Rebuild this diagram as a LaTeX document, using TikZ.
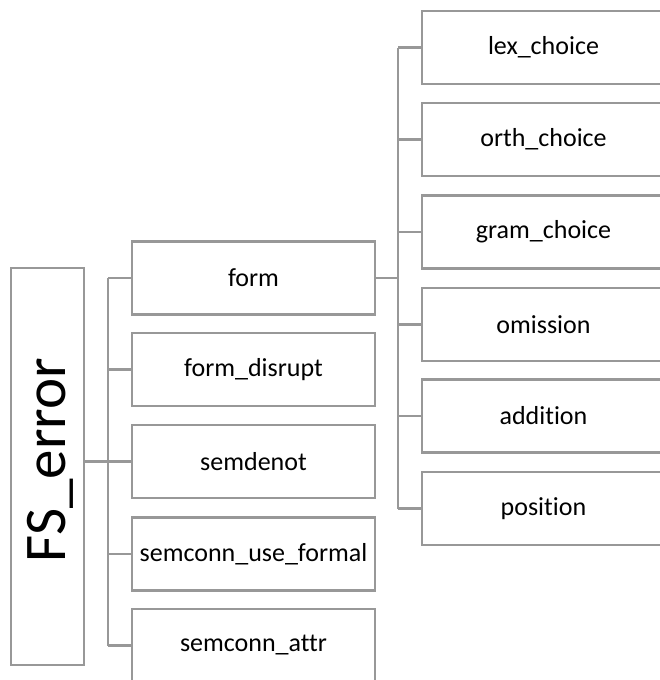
\documentclass[tikz,border=0pt]{standalone}
\usepackage{fontspec}
\setmainfont{Carlito}[RawFeature={-liga;-clig;-dlig;-calt}]
\definecolor{lineg}{RGB}{152,152,152}
\begin{document}
\begin{tikzpicture}[x=1pt,y=1pt,
  box/.style={draw=lineg,line width=2.3pt,fill=white,rectangle,inner sep=0pt,
    minimum width=243pt,minimum height=73pt,font=\fontsize{26}{30}\selectfont},
  rootbox/.style={draw=lineg,line width=2.3pt,fill=white,rectangle,inner sep=0pt,
    minimum width=73pt,minimum height=397pt},
  conn/.style={draw=lineg,line width=2.3pt}]
\useasboundingbox (0,0) rectangle (660,-680);
\clip (0,0) rectangle (660,-680);
% root
\node[rootbox] (root) at (47.5,-466.5) {};
\node[rotate=90,font=\fontsize{59}{66}\selectfont,inner sep=0pt] (roottxt) at (50,-460) {FS\_error};
% middle column
\node[box] (form) at (253.5,-278) {form};
\node[box] (disrupt) at (253.5,-369.5) {form\_disrupt};
\node[box] (semdenot) at (253.5,-461.5) {semdenot};
\node[box] (semformal) at (253.5,-554) {semconn\_use\_formal};
\node[box] (semattr) at (253.5,-645.5) {semconn\_attr};
% right column
\node[box] (lex) at (543.5,-47.5) {lex\_choice};
\node[box] (orth) at (543.5,-139.5) {orth\_choice};
\node[box] (gram) at (543.5,-232) {gram\_choice};
\node[box] (omis) at (543.5,-324.5) {omission};
\node[box] (addi) at (543.5,-416) {addition};
\node[box] (posi) at (543.5,-508.5) {position};
% trunk coordinates
\coordinate (t1) at (108,-461.5);
\coordinate (t2) at (398,-278);
% root connectors
\draw[conn] (root.east |- t1) -- (t1);
\draw[conn] (t1 |- form.west) -- (t1 |- semattr.west);
\foreach \c in {form,disrupt,semdenot,semformal,semattr}
  \draw[conn] (t1 |- \c.west) -- (\c.west);
% form connectors
\draw[conn] (form.east) -- (t2);
\draw[conn] (t2 |- lex.west) -- (t2 |- posi.west);
\foreach \c in {lex,orth,gram,omis,addi,posi}
  \draw[conn] (t2 |- \c.west) -- (\c.west);
\end{tikzpicture}
\end{document}
